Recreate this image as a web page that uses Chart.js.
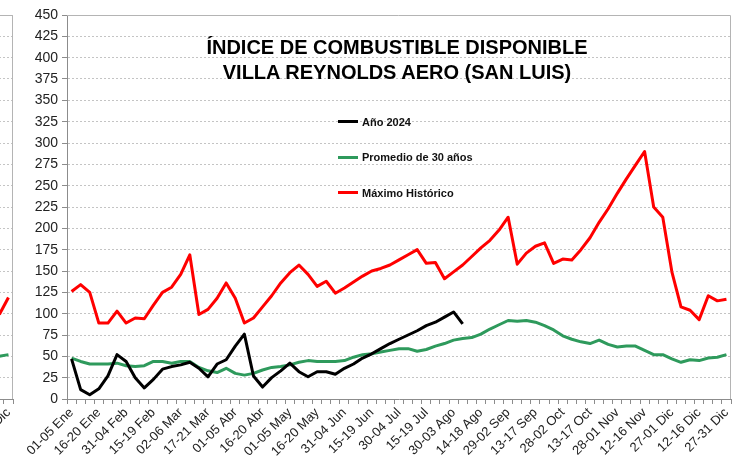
<!DOCTYPE html>
<html lang="es">
<head>
<meta charset="UTF-8">
<title>Índice de combustible disponible - Villa Reynolds Aero</title>
<script src="https://cdn.jsdelivr.net/npm/chart.js"></script>
<style>
  body { margin: 0; background: #fff; overflow: hidden; font-family: "Liberation Sans", Arial, sans-serif; }
  .wrap { position: relative; width: 741px; height: 460px; overflow: hidden; background: #fff; }
  #grafico { position: absolute; left: 0; top: 0; }
  #previo { position: absolute; left: -77px; top: 0; }
  .titulo { position: absolute; left: 0; top: 35px; width: 794px; text-align: center;
            font-weight: bold; font-size: 20px; line-height: 25px; color: #000; }
  .leyenda { position: absolute; left: 338px; top: 104px; }
  .leyenda .item { height: 35.5px; display: flex; align-items: center; font-weight: bold; font-size: 11px; color: #111; }
  .leyenda .linea { width: 20px; height: 3px; margin-right: 4px; }
</style>
</head>
<body>
<div class="wrap">
  <canvas id="previo" width="100" height="460"></canvas>
  <canvas id="grafico" width="741" height="460"></canvas>
  <div class="titulo">ÍNDICE DE COMBUSTIBLE DISPONIBLE<br>VILLA REYNOLDS AERO (SAN LUIS)</div>
  <div class="leyenda" id="leyenda"></div>
</div>

<script>
// pentadas del año
const categorias = [
  "01-05 Ene", "06-10 Ene", "11-15 Ene", "16-20 Ene", "21-25 Ene", "26-30 Ene", "31-04 Feb",
  "05-09 Feb", "10-14 Feb", "15-19 Feb", "20-24 Feb", "25-01 Mar",
  "02-06 Mar", "07-11 Mar", "12-16 Mar", "17-21 Mar", "22-26 Mar", "27-31 Mar",
  "01-05 Abr", "06-10 Abr", "11-15 Abr", "16-20 Abr", "21-25 Abr", "26-30 Abr",
  "01-05 May", "06-10 May", "11-15 May", "16-20 May", "21-25 May", "26-30 May", "31-04 Jun",
  "05-09 Jun", "10-14 Jun", "15-19 Jun", "20-24 Jun", "25-29 Jun", "30-04 Jul",
  "05-09 Jul", "10-14 Jul", "15-19 Jul", "20-24 Jul", "25-29 Jul", "30-03 Ago",
  "04-08 Ago", "09-13 Ago", "14-18 Ago", "19-23 Ago", "24-28 Ago", "29-02 Sep",
  "03-07 Sep", "08-12 Sep", "13-17 Sep", "18-22 Sep", "23-27 Sep", "28-02 Oct",
  "03-07 Oct", "08-12 Oct", "13-17 Oct", "18-22 Oct", "23-27 Oct", "28-01 Nov",
  "02-06 Nov", "07-11 Nov", "12-16 Nov", "17-21 Nov", "22-26 Nov", "27-01 Dic",
  "02-06 Dic", "07-11 Dic", "12-16 Dic", "17-21 Dic", "22-26 Dic", "27-31 Dic"
];

const anio2024 = [
  47, 11, 5, 12, 27, 52, 44, 25, 13, 23, 35, 38, 40, 43, 36, 26, 41, 46, 62, 76,
  27, 14, 25, 33, 42, 32, 26, 32, 32, 29, 36, 41, 48, 53, 59, 65, 70, 75, 80, 86,
  90, 96, 102, 88
];

const promedio30 = [
  48, 44, 41, 41, 41, 42, 39, 38, 39, 44, 44, 42, 44, 44, 37, 33, 31, 36, 30, 28,
  30, 34, 37, 38, 40, 43, 45, 44, 44, 44, 45, 49, 52, 53, 55, 57, 59, 59, 56, 58,
  62, 65, 69, 71, 72, 76, 82, 87, 92, 91, 92, 90, 86, 81, 74, 70, 67, 65, 69, 64,
  61, 62, 62, 57, 52, 52, 47, 43, 46, 45, 48, 49, 52
];

const maximoHistorico = [
  126, 134, 125, 89, 89, 103, 89, 95, 94, 110, 125, 131, 146, 169, 99, 105, 118, 136, 118, 89,
  95, 108, 121, 136, 148, 157, 146, 132, 138, 124, 130, 137, 144, 150, 153, 157, 163, 169, 175, 159,
  160, 141, 149, 157, 167, 177, 186, 198, 213, 158, 171, 179, 183, 159, 164, 163, 175, 189, 207, 223,
  241, 258, 274, 290, 225, 213, 149, 108, 104, 93, 121, 115, 117
];

// borde del gráfico vecino que asoma a la izquierda
const categoriasPrevio = ["22-26 Dic", "27-31 Dic"];
const promedioPrevio = [50, 52];
const maximoPrevio = [99, 119];

const colorAnio = '#000000';
const colorPromedio = '#2e9a5c';
const colorMaximo = '#ff0000';

Chart.defaults.font.family = '"Liberation Sans", Arial, sans-serif';
Chart.defaults.color = '#222';

const marco = {
  id: 'marco',
  beforeDatasetsDraw(chart) {
    const { ctx, chartArea: a } = chart;
    ctx.save();
    ctx.strokeStyle = '#b4b4b4';
    ctx.lineWidth = 1;
    ctx.beginPath();
    ctx.moveTo(a.left, a.top + 0.5);
    ctx.lineTo(a.right - 0.5, a.top + 0.5);
    ctx.lineTo(a.right - 0.5, a.bottom);
    ctx.stroke();
    ctx.restore();
  }
};

function linea(label, data, color) {
  return {
    label: label,
    data: data,
    borderColor: color,
    backgroundColor: color,
    borderWidth: 3,
    pointRadius: 0,
    tension: 0,
    fill: false,
    borderJoinStyle: 'round',
    spanGaps: false
  };
}

function escalas(etiquetas, mostrar, anchoY, conEjeY) {
  return {
    x: {
      offset: true,
      grid: { offset: true, drawOnChartArea: false, tickLength: 5, color: '#8c8c8c' },
      border: { color: '#8c8c8c' },
      ticks: {
        autoSkip: false, minRotation: 45, maxRotation: 45, padding: 1,
        color: '#222', font: { size: 13 },
        callback: (v, i) => mostrar(i) ? etiquetas[i] : ''
      },
      afterFit: s => { s.height = 61; }
    },
    y: {
      min: 0,
      max: 450,
      ticks: { stepSize: 25, color: '#222', font: { size: 14 }, padding: 4, display: conEjeY },
      grid: { color: '#c4c4c4', tickColor: '#8c8c8c', tickLength: 5 },
      border: { color: '#8c8c8c', dash: [2, 2], display: conEjeY },
      afterFit: s => { s.width = anchoY; }
    }
  };
}

const grafico = new Chart(document.getElementById('grafico'), {
  type: 'line',
  data: {
    labels: categorias,
    datasets: [
      linea('Año 2024', anio2024, colorAnio),
      linea('Promedio de 30 años', promedio30, colorPromedio),
      linea('Máximo Histórico', maximoHistorico, colorMaximo)
    ]
  },
  options: {
    responsive: false,
    animation: false,
    devicePixelRatio: 1,
    layout: { padding: { top: 15, right: 10, left: 0, bottom: 0 } },
    plugins: { legend: { display: false }, tooltip: { enabled: false } },
    scales: escalas(categorias, i => i % 3 === 0, 67, true)
  },
  plugins: [marco]
});

new Chart(document.getElementById('previo'), {
  type: 'line',
  data: {
    labels: categoriasPrevio,
    datasets: [
      linea('Promedio de 30 años', promedioPrevio, colorPromedio),
      linea('Máximo Histórico', maximoPrevio, colorMaximo)
    ]
  },
  options: {
    responsive: false,
    animation: false,
    devicePixelRatio: 1,
    layout: { padding: { top: 15, right: 10, left: 0, bottom: 0 } },
    plugins: { legend: { display: false }, tooltip: { enabled: false } },
    scales: escalas(categoriasPrevio, i => i === categoriasPrevio.length - 1, 71.8, false)
  },
  plugins: [marco]
});

// leyenda dentro del área del gráfico
const leyenda = document.getElementById('leyenda');
grafico.data.datasets.forEach(ds => {
  const item = document.createElement('div');
  item.className = 'item';
  const muestra = document.createElement('span');
  muestra.className = 'linea';
  muestra.style.background = ds.borderColor;
  const texto = document.createElement('span');
  texto.textContent = ds.label;
  item.appendChild(muestra);
  item.appendChild(texto);
  leyenda.appendChild(item);
});
</script>
</body>
</html>
